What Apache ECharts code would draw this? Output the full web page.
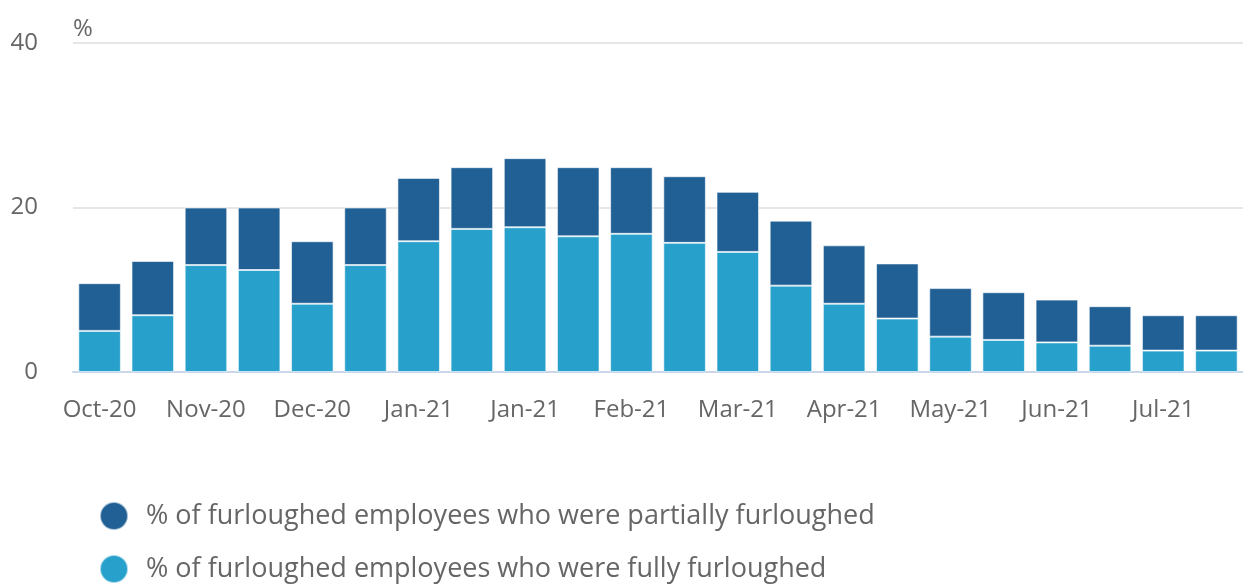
<!DOCTYPE html>
<html>
<head>
<meta charset="utf-8">
<script src="https://cdn.jsdelivr.net/npm/echarts@6/dist/echarts.min.js"></script>
<style>
	html, body {
		margin: 0;
		padding: 0;
		background: #fff;
	}

	#chart {
		width: 1243px;
		height: 584px;
	}
</style>
</head>
<body>
<div id="chart"></div>
<script>
// half-monthly periods, labels shown on every other bar
const categories = [
	"Oct-20", "Oct-20", "Nov-20", "Nov-20", "Dec-20", "Dec-20",
	"Jan-21", "Jan-21", "Jan-21", "Feb-21", "Feb-21", "Mar-21",
	"Mar-21", "Apr-21", "Apr-21", "May-21", "May-21", "Jun-21",
	"Jun-21", "Jul-21", "Jul-21", "Jul-21"
];
const fullyFurloughed = [5.0, 6.9, 13.0, 12.4, 8.3, 13.0, 15.9, 17.4, 17.6, 16.5, 16.8, 15.7, 14.6, 10.5, 8.3, 6.5, 4.3, 3.9, 3.6, 3.2, 2.6, 2.6];
const partiallyFurloughed = [5.8, 6.6, 7.0, 7.6, 7.6, 7.0, 7.7, 7.5, 8.4, 8.4, 8.1, 8.1, 7.3, 7.9, 7.1, 6.7, 5.9, 5.8, 5.2, 4.8, 4.3, 4.3];
const seriesNames = [
	"% of furloughed employees who were partially furloughed",
	"% of furloughed employees who were fully furloughed"
];
const yTicks = [0, 20, 40];

const textColor = "#666666";
const font = "Open Sans";

const myChart = echarts.init(document.getElementById("chart"), null, {renderer: "canvas"});

// one legend per row so they stack like the original
const legendRow = (name, top) => ({
	orient: "vertical",
	left: 99,
	top: top,
	padding: 0,
	icon: "circle",
	itemWidth: 28,
	itemHeight: 28,
	data: [name],
	textStyle: {
		fontSize: 27,
		color: textColor,
		fontFamily: font,
		padding: [0, 0, 0, 13]
	}
});

const option = {
	animation: false,
	textStyle: {fontFamily: font},
	grid: {
		left: 73,
		right: -11,
		top: 43,
		bottom: 212,
		containLabel: false
	},
	legend: [
		legendRow(seriesNames[0], 501),
		legendRow(seriesNames[1], 554)
	],
	xAxis: {
		type: "category",
		data: categories,
		axisLine: {
			lineStyle: {color: "#ccd6eb", width: 2}
		},
		axisTick: {
			alignWithLabel: true,
			interval: 1,
			length: 20,
			lineStyle: {color: "#ccd6eb", width: 2}
		},
		axisLabel: {
			interval: 1,
			fontSize: 24,
			color: textColor,
			margin: 26
		}
	},
	yAxis: {
		type: "value",
		min: yTicks[0],
		max: yTicks[yTicks.length - 1],
		interval: yTicks[1] - yTicks[0],
		name: "%",
		nameLocation: "end",
		nameGap: 2,
		nameTextStyle: {
			align: "left",
			fontSize: 24,
			color: textColor
		},
		axisLine: {show: false},
		axisTick: {show: false},
		axisLabel: {
			fontSize: 24,
			color: textColor,
			margin: 35
		},
		splitLine: {
			lineStyle: {color: "#e6e6e6", width: 2}
		}
	},
	series: [{
		name: seriesNames[1],
		type: "bar",
		stack: "total",
		barCategoryGap: "20%",
		data: fullyFurloughed,
		itemStyle: {
			color: "#27a0cc",
			borderColor: "rgba(255,255,255,0.6)",
			borderWidth: 1
		}
	}, {
		name: seriesNames[0],
		type: "bar",
		stack: "total",
		barCategoryGap: "20%",
		data: partiallyFurloughed,
		itemStyle: {
			color: "#206095",
			borderColor: "rgba(255,255,255,0.6)",
			borderWidth: 1
		}
	}]
};

option && myChart.setOption(option);
</script>
</body>
</html>
